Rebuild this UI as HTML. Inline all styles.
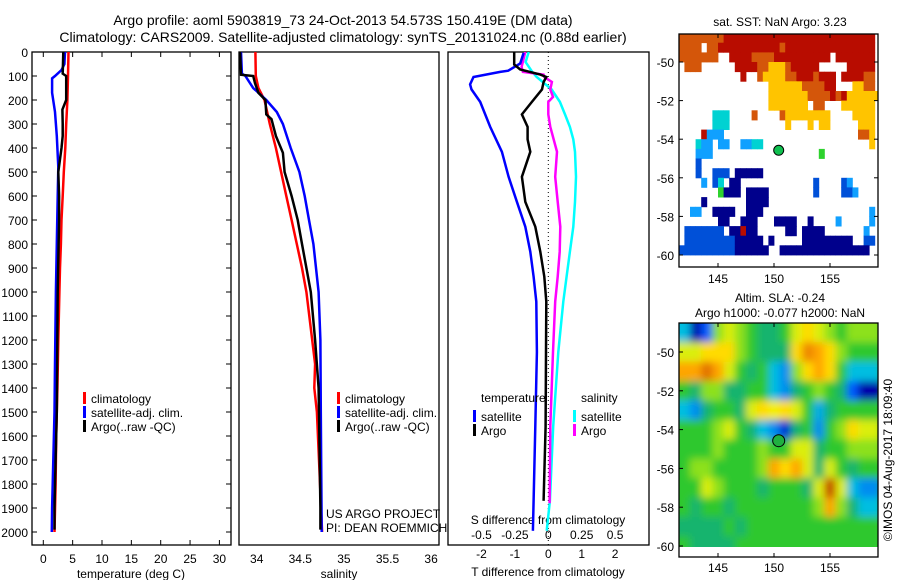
<!DOCTYPE html>
<html><head><meta charset="utf-8">
<style>
html,body{margin:0;padding:0;background:#fff;}
svg{display:block;font-family:"Liberation Sans",sans-serif;}
text{fill:#000;}
</style></head>
<body>
<svg id="fig" width="900" height="580" viewBox="0 0 900 580" xmlns="http://www.w3.org/2000/svg">
<defs>
<clipPath id="clipP1"><rect x="32" y="52" width="199" height="493"/></clipPath>
<clipPath id="clipP2"><rect x="239" y="52" width="200" height="493"/></clipPath>
<clipPath id="clipP3"><rect x="448" y="52" width="201" height="493"/></clipPath>
<clipPath id="clipM1"><rect x="679" y="34" width="199" height="233"/></clipPath>
<clipPath id="clipM2"><rect x="679" y="323" width="199" height="224"/></clipPath>
<filter id="blurSLA" x="-5%" y="-5%" width="110%" height="110%"><feGaussianBlur stdDeviation="4"/></filter>
</defs>
<text x="343" y="25" font-size="14" text-anchor="middle">Argo profile: aoml 5903819_73 24-Oct-2013 54.573S 150.419E (DM data)</text>
<text x="343" y="42" font-size="14" text-anchor="middle">Climatology: CARS2009. Satellite-adjusted climatology: synTS_20131024.nc (0.88d earlier)</text>
<g id="g1"></g>
<g id="g2"></g>
<g id="g3"></g>
<g id="gm1"></g>
<g id="gm2"></g>
<text x="0" y="0" font-size="12" text-anchor="middle" transform="translate(892,460) rotate(-90)">©IMOS 04-Aug-2017 18:09:40</text>
</svg>
<script>
// ---- profile data ----
const climDepth = [0,100,200,300,400,500,600,700,800,900,1000,1200,1400,1600,1800,2000];
const climTemp = [4.3,4.2,4.1,3.9,3.75,3.5,3.3,3.1,3.0,2.85,2.75,2.55,2.4,2.2,2.1,1.9];
const satDepthT = [0,50,75,100,110,170,250,350,480,600,800,1000,1300,1500,1700,1900,2000];
const satTemp = [3.7,3.6,3.1,2.0,1.5,1.5,2.0,2.3,2.55,2.45,2.3,2.15,2.0,1.9,1.7,1.5,1.45];
const argoDepthT = [0,90,100,200,240,300,350,400,500,600,700,1000,1500,1800,1900,1990];
const argoTemp = [3.4,3.3,3.9,3.9,3.25,3.3,3.3,3.1,2.55,2.7,2.7,2.45,2.3,2.0,1.9,1.9];

const climDepthS = [0,100,150,200,300,400,500,600,700,800,900,1000,1300,1400,1500,1700,2000];
const climSal = [33.985,33.99,34.02,34.09,34.15,34.22,34.28,34.34,34.40,34.46,34.52,34.57,34.67,34.66,34.69,34.715,34.75];
const satDepthS = [0,90,100,150,200,250,300,400,500,600,700,800,900,1000,1200,1500,2000];
const satSal = [33.82,33.83,33.87,33.96,34.11,34.23,34.30,34.39,34.49,34.55,34.60,34.65,34.68,34.71,34.73,34.735,34.745];
const argoDepthS = [0,95,100,130,170,200,260,280,350,420,500,600,700,800,900,1000,1200,1400,1500,1900,1990];
const argoSal = [33.81,33.82,33.96,33.98,34.02,34.10,34.11,34.17,34.22,34.30,34.32,34.40,34.47,34.52,34.57,34.62,34.67,34.71,34.715,34.73,34.73];

const dTsatDepth = [4,48,78,83,104,135,156,208,312,416,520,624,728,832,936,1040,1250,1560,1870,1995];
const dTsat = [-0.74,-0.84,-1.2,-1.44,-2.24,-2.34,-2.3,-2.04,-1.74,-1.39,-1.19,-0.94,-0.69,-0.54,-0.44,-0.36,-0.34,-0.39,-0.44,-0.46];
const dTargoDepth = [0,52,73,94,104,125,156,208,260,312,364,416,520,624,728,832,936,1040,1250,1560,1870];
const dTargo = [-1.02,-1.02,-0.84,-0.24,-0.06,-0.14,-0.19,-0.49,-0.79,-0.62,-0.62,-0.54,-0.79,-0.69,-0.39,-0.24,-0.12,-0.06,-0.07,-0.08,-0.14];
const dSargoDepth = [0,62,83,94,104,125,156,187,208,260,312,416,520,624,728,832,936,1040,1250,1560,1880];
const dSargo = [-0.172,-0.2,-0.19,-0.035,-0.03,0.027,0.015,0.035,0.0,0.0,0.015,0.065,0.052,0.07,0.09,0.085,0.07,0.052,0.035,0.015,0.01];
const dSsatDepth = [0,42,83,104,156,208,260,312,364,416,520,624,728,832,936,1040,1250,1560,1870,1995];
const dSsat = [-0.147,-0.17,-0.12,-0.087,0.025,0.087,0.125,0.162,0.187,0.2,0.207,0.2,0.187,0.162,0.137,0.112,0.075,0.037,0.012,-0.012];

const depthTicks = [0,100,200,300,400,500,600,700,800,900,1000,1100,1200,1300,1400,1500,1600,1700,1800,1900,2000];
const tempTicks = [0,5,10,15,20,25,30];
const salTicks = [34,34.5,35,35.5,36];
const salTickLabels = ["34","34.5","35","35.5","36"];
const dTTicks = [-2,-1,0,1,2];
const dSTicks = [-0.5,-0.25,0,0.25,0.5];

// ---- map data ----
const lonTicks = [145,150,155];
const latTicks = [-50,-52,-54,-56,-58,-60];
const argoLon = 150.419, argoLat = -54.573;
// SST grid rows: 0.5 deg cells, starting lon 141.5, lat -48.5 going south
const sstRows = [
"oooooooorrrrrrrrrrrrrrrrrrrrrrrrrrr",
"oooo.oorrrrrrrrrrrorrrrrrrrrrrrrrrr",
"ooooooo..rrrroooorrrrrrrrrr.rrrrrrr",
".ooo......rrrrooyyyorrrrr.....rrrrr",
"...........r..oyyyyoorrrorrr.rrrroo",
"................yyyyyyoooorr...yyoo",
"................yyyyyyyoooororyyyyyy",
"................yyyyyyy.oo...yyyyyy",
"......ccc....o....oyyyyyyyy....yyyy",
"......ccc..........y...y.yy.....yyy",
"....rbbb........................ooy",
"...cbb.bb..bbcc...................y",
"...bbb...................g.........",
"...B...............................",
"...B..BBB.nnnnn....................",
"....b.Bc.nn.............B....Bb....",
".......gnnn.nnnn........B....BBb...",
"....n.......nnnn...................",
"..bb..nnnn..nnn...................b",
".......nn..nnn...nnnn..n....b.....b",
".BBBBBBB.nnrnn.....nn.nnnn.......b.",
".BBBBBBBBBnnnnn.n.....nnnnnnnnn..BB",
"BBBBBBBBBBnnnnnn..nnnnnnnnnnnnnnnn."
];
const sstColors = {r:"#b80c00",o:"#d4560a",y:"#ffc400",g:"#2ed22e",c:"#00d2d2",b:"#10a0ff",B:"#0050d8",n:"#00008c"};
// SLA grid: 1 deg cells, lon 142..158, lat -49..-60 (m-ish units)
const slaLons = [142,143,144,145,146,147,148,149,150,151,152,153,154,155,156,157,158];
const slaLats = [-49,-50,-51,-52,-53,-54,-55,-56,-57,-58,-59,-60];
const slaRow49 = [-1,-3,-2,0.5,1,0.5,0,-0.5,-0.5,0,1,1.5,1,0.5,0,0.5,0.5];
const slaRow50 = [1,1,1.5,1.5,1.5,0.5,0,-0.5,-0.5,-0.5,1.5,2.3,2,1.5,0.5,0,0];
const slaRow51 = [2,2,2.5,2,1,0,-0.5,0,-1,-1.5,0.5,1.5,2,1.5,0,-1,-1];
const slaRow52 = [0,-0.5,0.5,0.5,-0.5,-0.5,0,0,-1,-1.5,-0.5,0,0.5,0,-0.5,-2,-3];
const slaRow53 = [-1,-1.5,-0.5,0,0,-0.5,1,1.5,1.2,1.5,1,0,-1.2,-0.5,0,0,0];
const slaRow54 = [0,0,0,0.5,1,0,-0.5,-1,-1.5,-2.5,-0.5,0,-1.5,0,0.5,1.5,1];
const slaRow55 = [0,0,0,0.5,0,0,0,0.5,0,0,1,1,-0.5,0,0,0.5,0.5];
const slaRow56 = [0,0.5,0.5,0,0,0,0,0.5,2,1.5,2,1,-0.5,1,0,-0.5,0];
const slaRow57 = [0,0,1,0.5,0,0,0,-0.5,0,0,0,-0.5,1,3,1,-1,-1.5];
const slaRow58 = [0,-0.5,0,0,-0.5,0,0,0,0,0,0,0,0.5,2,0.5,-0.5,-1];
const slaRow59 = [-0.5,-0.5,-0.5,-0.5,0,-0.5,0,0,0,0,0,0,0,0,0,0,0];
const slaRow60 = [0,-0.5,-0.5,-0.5,-0.5,0,0,0,0,0,0,0,0,0,0,0,0];
const slaGrid = [slaRow49,slaRow50,slaRow51,slaRow52,slaRow53,slaRow54,slaRow55,slaRow56,slaRow57,slaRow58,slaRow59,slaRow60];

const NS = "http://www.w3.org/2000/svg";
function mk(parent, tag, attrs, txt){
  const e = document.createElementNS(NS, tag);
  for (const k in attrs) e.setAttribute(k, attrs[k]);
  if (txt !== undefined) e.textContent = txt;
  parent.appendChild(e);
  return e;
}
// axis functions
const yD = d => 52 + d*0.24;
const xT = t => 43.3 + t*5.87;
const xS = s => 256.7 + (s-34)*87.2;
const xdT = v => 548.3 + v*33.4;
const xdS = v => 548.3 + v*133.6;
const xLon = lon => 718 + (lon-145)*11.2;
const yLat1 = lat => 62 + (-50-lat)*19.3;
const yLat2 = lat => 352 + (-50-lat)*19.4;

function line(g, xs, ds, fx, color, w, name){
  const pts = xs.map((v,i)=>fx(v).toFixed(1)+","+yD(ds[i]).toFixed(1)).join(" ");
  const p = mk(g,"polyline",{points:pts,fill:"none",stroke:color,"stroke-width":w,"stroke-linejoin":"miter"});
  
  
}
function frame(g, x, y, w, h, name){
  const r = mk(g,"rect",{x:x,y:y,width:w,height:h,fill:"none",stroke:"#000","stroke-width":1.3});
  
  
}
function txt(g, x, y, s, size, anchor, name){
  const t = mk(g,"text",{x:x,y:y,"font-size":size,"text-anchor":anchor||"start"}, s);
  
  
  return t;
}

// ---- panel 1 ----
const g1 = document.getElementById("g1");
frame(g1,32,52,199,493,"temperature-frame");
depthTicks.forEach(d=>{
  txt(g1,28,yD(d)+5,String(d),12,"end","depth-tick-label");
  mk(g1,"line",{x1:32,x2:37,y1:yD(d),y2:yD(d),stroke:"#000"});
  mk(g1,"line",{x1:226,x2:231,y1:yD(d),y2:yD(d),stroke:"#000"});
});
tempTicks.forEach(t=>{
  txt(g1,xT(t),563,String(t),12,"middle","temperature-tick-label");
  mk(g1,"line",{x1:xT(t),x2:xT(t),y1:52,y2:57,stroke:"#000"});
  mk(g1,"line",{x1:xT(t),x2:xT(t),y1:540,y2:545,stroke:"#000"});
});
txt(g1,131,578,"temperature (deg C)",12,"middle","temperature-axis-title");
const c1 = mk(g1,"g",{"clip-path":"url(#clipP1)"});
line(c1,climTemp,climDepth,xT,"#ff0000",2.5,"temp-climatology-line");
line(c1,satTemp,satDepthT,xT,"#0000ff",2.5,"temp-satellite-line");
line(c1,argoTemp,argoDepthT,xT,"#000",2.5,"temp-argo-line");
[["climatology","#ff0000",398],["satellite-adj. clim.","#0000ff",412],["Argo(..raw -QC)","#000",426]].forEach(([s,c,y])=>{
  mk(g1,"rect",{x:83,y:y-6,width:3,height:12,fill:c});
  txt(g1,91,y+5,s,12,"start","temp-legend-entry");
});

// ---- panel 2 ----
const g2 = document.getElementById("g2");
frame(g2,239,52,200,493,"salinity-frame");
salTicks.forEach((s,i)=>{ txt(g2,xS(s),563,salTickLabels[i],12,"middle","salinity-tick-label"); });
txt(g2,339,578,"salinity",12,"middle","salinity-axis-title");
const c2 = mk(g2,"g",{"clip-path":"url(#clipP2)"});
line(c2,climSal,climDepthS,xS,"#ff0000",2.5,"sal-climatology-line");
line(c2,satSal,satDepthS,xS,"#0000ff",2.5,"sal-satellite-line");
line(c2,argoSal,argoDepthS,xS,"#000",2.5,"sal-argo-line");
[["climatology","#ff0000",398],["satellite-adj. clim.","#0000ff",412],["Argo(..raw -QC)","#000",426]].forEach(([s,c,y])=>{
  mk(g2,"rect",{x:337,y:y-6,width:3,height:12,fill:c});
  txt(g2,345,y+5,s,12,"start","sal-legend-entry");
});
txt(g2,326,518,"US ARGO PROJECT",12,"start","project-credit");
txt(g2,326,532,"PI: DEAN ROEMMICH",12,"start","pi-credit");

// ---- panel 3 ----
const g3 = document.getElementById("g3");
frame(g3,448,52,201,493,"difference-frame");
mk(g3,"line",{x1:548.3,x2:548.3,y1:52,y2:545,stroke:"#000","stroke-dasharray":"1,3"});
dTTicks.forEach(v=>{ txt(g3,xdT(v),558,String(v),12,"middle","t-diff-tick-label"); });
dSTicks.forEach(v=>{ txt(g3,xdS(v),539,String(v),12,"middle","s-diff-tick-label"); });
txt(g3,548,524,"S difference from climatology",12,"middle","s-diff-axis-title");
txt(g3,548,576,"T difference from climatology",12,"middle","t-diff-axis-title");
const c3 = mk(g3,"g",{"clip-path":"url(#clipP3)"});
line(c3,dSsat,dSsatDepth,xdS,"#00ffff",2.5,"sdiff-satellite-line");
line(c3,dSargo,dSargoDepth,xdS,"#ff00ff",2.5,"sdiff-argo-line");
line(c3,dTsat,dTsatDepth,xdT,"#0000ff",2.5,"tdiff-satellite-line");
line(c3,dTargo,dTargoDepth,xdT,"#000",2.5,"tdiff-argo-line");
txt(g3,481,402,"temperature",12,"start","legend-temperature-heading");
txt(g3,581,402,"salinity",12,"start","legend-salinity-heading");
[["satellite","#0000ff",473,416],["Argo","#000",473,430],["satellite","#00ffff",573,416],["Argo","#ff00ff",573,430]].forEach(([s,c,x,y])=>{
  mk(g3,"rect",{x:x,y:y-6,width:3,height:12,fill:c});
  txt(g3,x+8,y+5,s,12,"start","diff-legend-entry");
});

// ---- SST map ----
const gm1 = document.getElementById("gm1");
txt(gm1,780,26,"sat. SST: NaN Argo: 3.23",12,"middle","sst-map-title");
const cm1 = mk(gm1,"g",{"clip-path":"url(#clipM1)"});
sstRows.forEach((row,j)=>{
  for (let i=0;i<row.length;i++){
    const ch=row[i]; if (ch===".") continue;
    const lon0 = 141.5 + i*0.5, lat0 = -48.5 - j*0.5;
    const x0=xLon(lon0), x1=xLon(lon0+0.5), y0=yLat1(lat0), y1=yLat1(lat0-0.5);
    const r = mk(cm1,"rect",{x:x0.toFixed(1),y:y0.toFixed(1),width:(x1-x0+0.4).toFixed(1),height:(y1-y0+0.4).toFixed(1),fill:sstColors[ch]});
    
    
  }
});
frame(gm1,679,34,199,233,"sst-map-frame");
const mark1 = mk(gm1,"circle",{cx:xLon(argoLon),cy:yLat1(argoLat),r:5,fill:"#10c050",stroke:"#000","stroke-width":1});


latTicks.forEach(l=>{
  txt(gm1,674,yLat1(l)+5,String(l),12,"end","sst-lat-tick-label");
  mk(gm1,"line",{x1:679,x2:683,y1:yLat1(l),y2:yLat1(l),stroke:"#000"});
  mk(gm1,"line",{x1:874,x2:878,y1:yLat1(l),y2:yLat1(l),stroke:"#000"});
});
lonTicks.forEach(l=>{
  txt(gm1,xLon(l),283,String(l),12,"middle","sst-lon-tick-label");
  mk(gm1,"line",{x1:xLon(l),x2:xLon(l),y1:34,y2:38,stroke:"#000"});
  mk(gm1,"line",{x1:xLon(l),x2:xLon(l),y1:263,y2:267,stroke:"#000"});
});

// ---- SLA map ----
function slaColor(v){
  const stops=[[-3,[0,0,170]],[-2,[0,90,255]],[-1,[0,190,225]],[-0.5,[25,180,110]],[0,[45,200,45]],[0.7,[180,235,20]],[1.3,[255,240,0]],[2,[255,165,0]],[3,[195,60,0]]];
  if (v<=stops[0][0]) return "rgb("+stops[0][1]+")";
  for (let k=1;k<stops.length;k++){
    if (v<=stops[k][0]){
      const a=stops[k-1], b=stops[k], f=(v-a[0])/(b[0]-a[0]);
      return "rgb("+a[1].map((c,i)=>Math.round(c+(b[1][i]-c)*f)).join(",")+")";
    }
  }
  return "rgb("+stops[stops.length-1][1]+")";
}
const gm2 = document.getElementById("gm2");
txt(gm2,780,302,"Altim. SLA: -0.24",12,"middle","sla-map-title-1");
txt(gm2,780,317,"Argo h1000: -0.077 h2000: NaN",12,"middle","sla-map-title-2");
const cm2 = mk(gm2,"g",{"clip-path":"url(#clipM2)"});
mk(cm2,"rect",{x:679,y:323,width:199,height:224,fill:slaColor(0)});
const cm2b = mk(cm2,"g",{filter:"url(#blurSLA)"});
slaGrid.forEach((row,j)=>{
  row.forEach((v,i)=>{
    const lon=slaLons[i], lat=slaLats[j];
    const x0=xLon(lon-0.5), x1=xLon(lon+0.5), y0=yLat2(lat+0.5), y1=yLat2(lat-0.5);
    const r = mk(cm2b,"rect",{x:(i===0?x0-12:x0).toFixed(1),y:(j===0?y0-12:y0).toFixed(1),width:(x1-x0+(i===0||i===row.length-1?12:0)+0.5).toFixed(1),height:(y1-y0+(j===0||j===slaGrid.length-1?12:0)+0.5).toFixed(1),fill:slaColor(v)});
    
    
  });
});
frame(gm2,679,323,199,234,"sla-map-frame");
const mark2 = mk(gm2,"circle",{cx:xLon(argoLon),cy:yLat2(argoLat),r:6,fill:"#20b040",stroke:"#000","stroke-width":1});


latTicks.forEach(l=>{
  txt(gm2,674,yLat2(l)+5,String(l),12,"end","sla-lat-tick-label");
  mk(gm2,"line",{x1:679,x2:683,y1:yLat2(l),y2:yLat2(l),stroke:"#000"});
});
lonTicks.forEach(l=>{
  txt(gm2,xLon(l),572,String(l),12,"middle","sla-lon-tick-label");
  mk(gm2,"line",{x1:xLon(l),x2:xLon(l),y1:323,y2:327,stroke:"#000"});
  mk(gm2,"line",{x1:xLon(l),x2:xLon(l),y1:553,y2:557,stroke:"#000"});
});
</script>
</body></html>
